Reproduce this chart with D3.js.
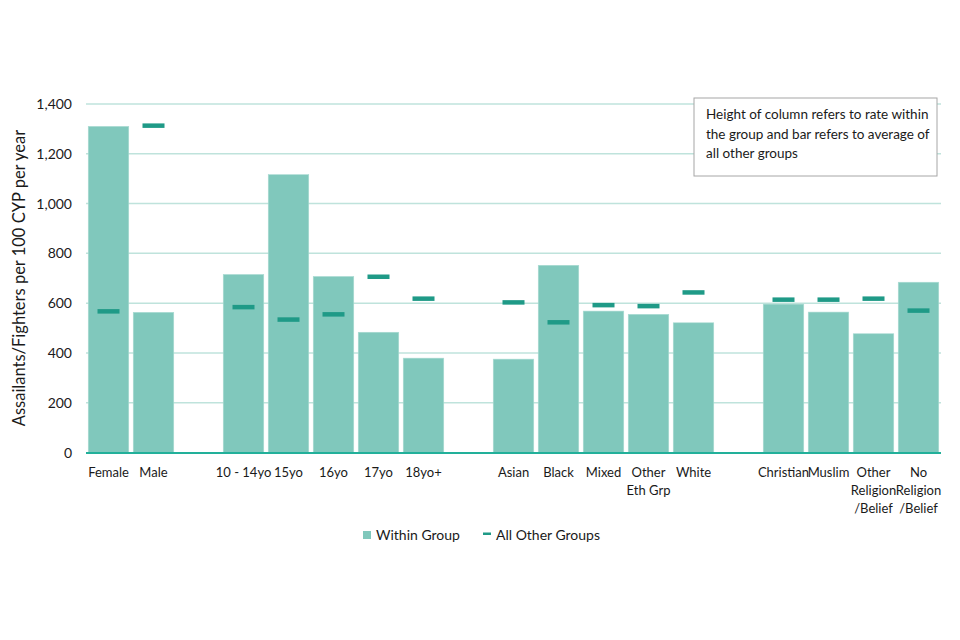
<!DOCTYPE html>
<html>
<head>
<meta charset="utf-8">
<script src="https://cdn.jsdelivr.net/npm/d3@7"></script>
<style>
  body { margin: 0; background: #fff; }
  text { font-family: Lato, "Open Sans", sans-serif; fill: #1a1a1a; }
</style>
</head>
<body>
<script>
// slots: blank strings are the spacer columns between groups
var categories = ['Female','Male','_g1','10 - 14yo','15yo','16yo','17yo','18yo+','_g2',
  'Asian','Black','Mixed','Other|Eth Grp','White','_g3',
  'Christian','Muslim','Other|Religion|/Belief','No|Religion|/Belief'];
var withinGroup = {'Female':1310,'Male':563,'10 - 14yo':715,'15yo':1116,'16yo':707,'17yo':483,'18yo+':379,
  'Asian':375,'Black':752,'Mixed':568,'Other|Eth Grp':555,'White':521,
  'Christian':596,'Muslim':564,'Other|Religion|/Belief':477,'No|Religion|/Belief':684};
var allOther = {'Female':568,'Male':1314,'10 - 14yo':585,'15yo':535,'16yo':556,'17yo':707,'18yo+':619,
  'Asian':604,'Black':524,'Mixed':593,'Other|Eth Grp':589,'White':644,
  'Christian':615,'Muslim':615,'Other|Religion|/Belief':619,'No|Religion|/Belief':571};
var yTicks = [0,200,400,600,800,1000,1200,1400];
var note = ['Height of column refers to rate within','the group and bar refers to average of','all other groups'];

var barColor = '#80c8bc', markColor = '#1f9a87', gridColor = '#bfe3dc', axisColor = '#22b09a';

var svg = d3.select('body').append('svg').attr('width',960).attr('height',640);

var x = d3.scaleBand().domain(categories).range([86,941]).paddingInner(0.1).paddingOuter(0.05);
var y = d3.scaleLinear().domain([0,1400]).range([452.5,104]);

// grid
svg.append('g').selectAll('line').data(yTicks.slice(1)).enter().append('line')
  .attr('x1',86).attr('x2',941)
  .attr('y1',function(d){return y(d)}).attr('y2',function(d){return y(d)})
  .attr('stroke',gridColor).attr('stroke-width',1.5);

// y labels
svg.append('g').selectAll('text').data(yTicks).enter().append('text')
  .attr('x',72).attr('y',function(d){return y(d)+5})
  .attr('text-anchor','end').style('font-size','14px')
  .text(function(d){return d3.format(',')(d)});

svg.append('text')
  .attr('transform','translate(25,278) rotate(-90)')
  .attr('text-anchor','middle').style('font-size','16.5px')
  .text('Assailants/Fighters per 100 CYP per year');

var cats = categories.filter(function(c){return c.charAt(0)!='_'});

// bars
svg.append('g').selectAll('rect').data(cats).enter().append('rect')
  .attr('x',function(d){return x(d)})
  .attr('width',x.bandwidth())
  .attr('y',function(d){return y(withinGroup[d])})
  .attr('height',function(d){return y(0)-y(withinGroup[d])})
  .attr('fill',barColor).attr('stroke','#a9dbd2').attr('stroke-width',0.6);

// axis line
svg.append('line').attr('x1',86).attr('x2',941).attr('y1',y(0)+0.5).attr('y2',y(0)+0.5)
  .attr('stroke',axisColor).attr('stroke-width',1.8);

// markers for all other groups
svg.append('g').selectAll('rect').data(cats).enter().append('rect')
  .attr('x',function(d){return x(d)+x.bandwidth()/2-11})
  .attr('width',22)
  .attr('y',function(d){return y(allOther[d])-2})
  .attr('height',4.5)
  .attr('fill',markColor);

// x labels
var xl = svg.append('g').selectAll('text').data(cats).enter().append('text')
  .attr('text-anchor','middle').style('font-size','13px')
  .attr('transform',function(d){return 'translate('+(x(d)+x.bandwidth()/2)+',477)'});
xl.selectAll('tspan').data(function(d){return d.split('|')}).enter().append('tspan')
  .attr('x',0).attr('dy',function(d,i){return i?18:0}).text(function(d){return d});

// note box
svg.append('rect').attr('x',694).attr('y',98).attr('width',243).attr('height',78)
  .attr('fill','#fff').attr('stroke','#a6a6a6').attr('stroke-width',1);
svg.append('g').selectAll('text').data(note).enter().append('text')
  .attr('x',706).attr('y',function(d,i){return 119+i*19.5})
  .style('font-size','13.5px').text(function(d){return d});

// legend
svg.append('rect').attr('x',363).attr('y',531).attr('width',8).attr('height',8).attr('fill',barColor);
svg.append('text').attr('x',376).attr('y',540).style('font-size','14px').text('Within Group');
svg.append('rect').attr('x',483).attr('y',532.5).attr('width',8).attr('height',2.5).attr('fill',markColor);
svg.append('text').attr('x',496).attr('y',540).style('font-size','14px').text('All Other Groups');
</script>
</body>
</html>
